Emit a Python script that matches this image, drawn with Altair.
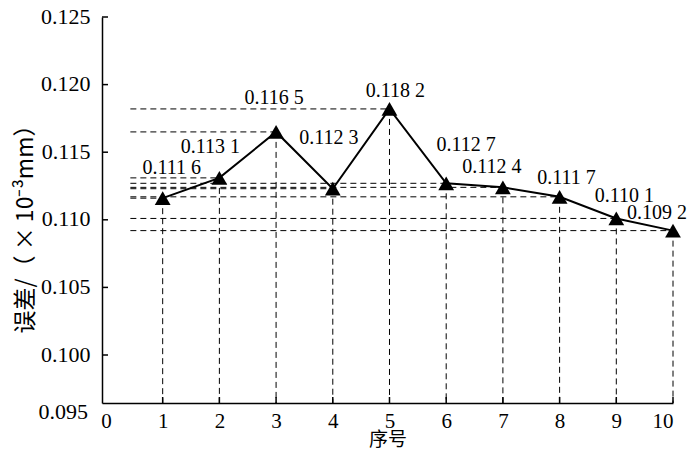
import altair as alt
import pandas as pd

idx = [1, 2, 3, 4, 5, 6, 7, 8, 9, 10]
err = [0.1116, 0.1131, 0.1165, 0.1123, 0.1182, 0.1127, 0.1124, 0.1117, 0.1101, 0.1092]
labels = ["0.111 6", "0.113 1", "0.116 5", "0.112 3", "0.118 2",
          "0.112 7", "0.112 4", "0.111 7", "0.110 1", "0.109 2"]
x_ticks = [0, 1, 2, 3, 4, 5, 6, 7, 8, 9, 10]
y_ticks = [0.100, 0.105, 0.110, 0.115, 0.120, 0.125]
y_bottom_label = "0.095"

# label offsets in pixels (layout only)
lab_dx = [9, -9, -2, -4, 6, 20, -11, 7, 8, -16]
lab_dy = [-30, -31, -34, -51, -18, -38, -20, -19, -22, -18]

Y_MIN = 0.09645
X_MIN = -0.07
X_LINE_START = 0.43

df = pd.DataFrame({"n": idx, "v": err, "lab": labels})
df["ymin"] = Y_MIN
df["xs"] = X_LINE_START

FONT = "Liberation Serif"
CJK = "Noto Sans CJK SC"

xenc = alt.X("n:Q", scale=alt.Scale(domain=[X_MIN, 10], nice=False, zero=False),
             axis=alt.Axis(values=x_ticks, title="序号", format="d", grid=False,
                           ticks=False, labelFontSize=21, labelPadding=7,
                           titleFontSize=19, titleY=36, titleBaseline="middle"))
yenc = alt.Y("v:Q", scale=alt.Scale(domain=[Y_MIN, 0.125], nice=False, zero=False),
             axis=alt.Axis(values=y_ticks, title="误差/（ × 10⁻³mm）", grid=False,
                           format=".3f", ticks=False,
                           labelFontSize=22, labelPadding=12, labelOffset=-1,
                           titleFontSize=23, titleX=-77, titleY=206,
                           titleBaseline="middle", titleAlign="center"))

base = alt.Chart(df)

vrules = base.mark_rule(color="black", strokeWidth=1, strokeDash=[6, 4]).encode(
    x=xenc, y=yenc, y2="ymin:Q")
hrules = base.mark_rule(color="black", strokeWidth=1, strokeDash=[6, 4]).encode(
    x="xs:Q", x2="n:Q", y="v:Q")
line = base.mark_line(color="black", strokeWidth=2).encode(x="n:Q", y="v:Q")
pts = base.mark_point(shape="triangle-up", filled=True, color="black", size=250, opacity=1).encode(
    x="n:Q", y="v:Q")

# inward ticks
ytick_df = pd.DataFrame({"t": y_ticks})
yticks = alt.Chart(ytick_df).mark_rule(color="black", strokeWidth=1.5).encode(
    y="t:Q", x=alt.value(0), x2=alt.value(6))
xtick_df = pd.DataFrame({"t": x_ticks[1:]})
xticks = alt.Chart(xtick_df).mark_rule(color="black", strokeWidth=1.5).encode(
    x="t:Q", y=alt.value(386), y2=alt.value(380))

# bottom (broken-axis) label
bot_df = pd.DataFrame({"t": [Y_MIN], "lab": [y_bottom_label]})
bot = alt.Chart(bot_df).mark_text(
    font=FONT, fontSize=22, color="black", align="right", baseline="middle", dy=9).encode(
    y="t:Q", x=alt.value(-14), text="lab:N")

texts = []
for i in range(len(idx)):
    t = alt.Chart(df.iloc[[i]]).mark_text(
        font=FONT, fontSize=20, color="black", align="center", baseline="middle",
        dx=lab_dx[i], dy=lab_dy[i]).encode(x="n:Q", y="v:Q", text="lab:N")
    texts.append(t)

chart = alt.layer(vrules, hrules, yticks, xticks, line, pts, bot, *texts).properties(
    width=571, height=386,
    autosize=alt.AutoSizeParams(type="none"),
    padding={"left": 94, "top": 9, "right": 19, "bottom": 45},
).configure_view(stroke=None).configure_axis(
    domainWidth=1.5, domainColor="black",
    labelFont=FONT, labelColor="black",
    titleFont=CJK, titleColor="black", titleFontWeight="normal",
)

chart.save("out.html", embed_options={"renderer": "svg", "actions": False})
